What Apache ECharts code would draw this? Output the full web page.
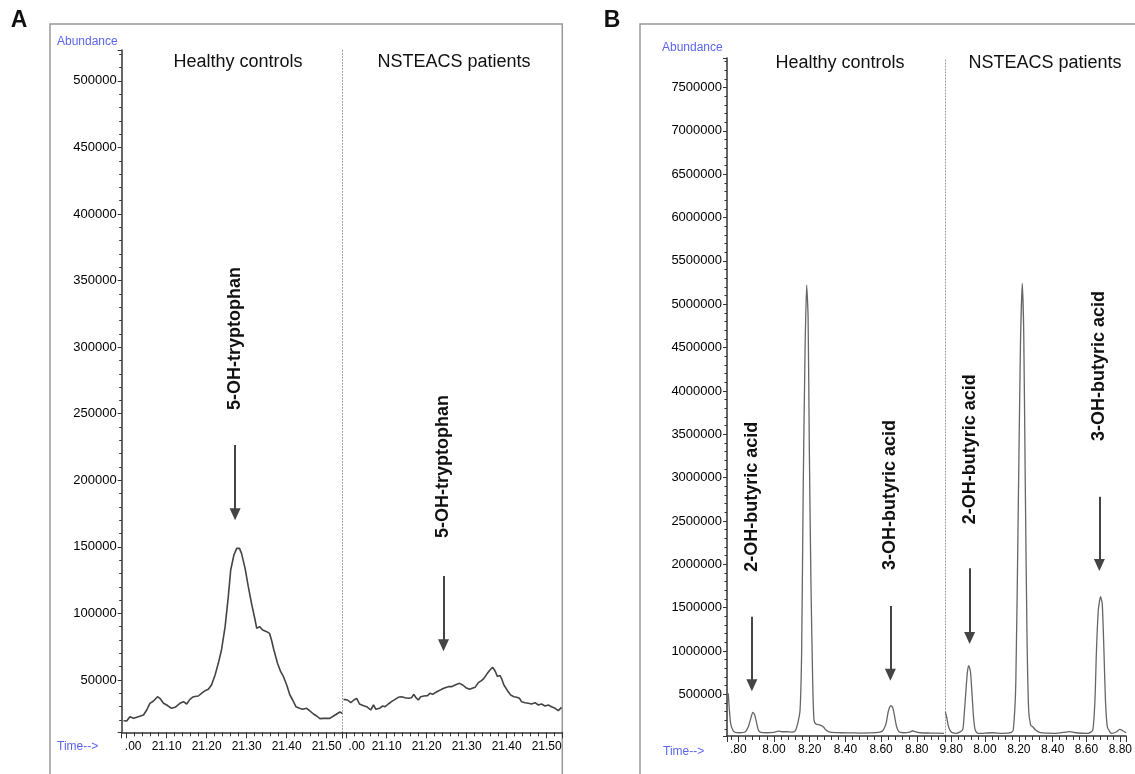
<!DOCTYPE html>
<html>
<head>
<meta charset="utf-8">
<title>GC-MS chromatograms</title>
<script src="https://cdn.jsdelivr.net/npm/echarts@6.0.0/dist/echarts.min.js"></script>
<style>
html, body { margin: 0; padding: 0; background: #fff; }
#chart { width: 1135px; height: 774px; }
</style>
</head>
<body>
<div id="chart"></div>
<script>
// Panel A - 5-OH-tryptophan, retention time (min) / abundance
var timeAHealthy = [20.992, 21.000, 21.008, 21.017, 21.029, 21.042, 21.050, 21.058, 21.067, 21.077,
    21.083, 21.092, 21.100, 21.112, 21.121, 21.133, 21.142, 21.150, 21.158, 21.167,
    21.179, 21.187, 21.196, 21.204, 21.212, 21.221, 21.229, 21.237, 21.246, 21.254,
    21.260, 21.268, 21.275, 21.282, 21.287, 21.296, 21.304, 21.312, 21.321, 21.325,
    21.332, 21.340, 21.350, 21.357, 21.362, 21.368, 21.377, 21.385, 21.392, 21.400,
    21.408, 21.415, 21.423, 21.432, 21.440, 21.450, 21.457, 21.467, 21.475, 21.483,
    21.492, 21.500, 21.508, 21.517, 21.525, 21.533, 21.539];
var abundAHealthy = [19400, 19150, 22410, 21160, 22410, 23660, 27420, 32430, 34180, 37430,
    36180, 32430, 31170, 28670, 29420, 32430, 33680, 31930, 35430, 37430,
    37940, 39940, 41940, 42940, 46200, 53710, 62480, 72490, 90020, 112560,
    132590, 143860, 148860, 148860, 145110, 133840, 120070, 107550, 95030, 88770,
    90020, 87510, 86260, 85010, 80000, 72490, 62480, 56210, 52460, 46200,
    38690, 34930, 29920, 28670, 27920, 28670, 26920, 24410, 22910, 20910,
    21160, 21160, 21160, 22910, 24410, 25920, 24920];
var timeAPatients = [20.992, 21.002, 21.010, 21.018, 21.025, 21.032, 21.042, 21.050, 21.060, 21.067,
    21.073, 21.082, 21.090, 21.096, 21.104, 21.112, 21.121, 21.129, 21.137, 21.146,
    21.154, 21.162, 21.168, 21.173, 21.179, 21.185, 21.193, 21.202, 21.208, 21.215,
    21.221, 21.229, 21.237, 21.246, 21.254, 21.262, 21.271, 21.282, 21.290, 21.298,
    21.307, 21.312, 21.321, 21.329, 21.337, 21.343, 21.350, 21.358, 21.365, 21.371,
    21.377, 21.383, 21.387, 21.393, 21.402, 21.410, 21.418, 21.425, 21.432, 21.437,
    21.446, 21.454, 21.462, 21.471, 21.479, 21.487, 21.496, 21.504, 21.512, 21.521,
    21.529, 21.533, 21.537];
var abundAPatients = [35430, 34930, 32930, 34930, 36180, 31930, 30670, 29920, 27420, 31170,
    27920, 28670, 30420, 29920, 31930, 33680, 35430, 36930, 37430, 36680,
    36180, 36680, 39190, 36680, 34930, 37430, 37940, 38190, 39940, 39190,
    40440, 41690, 42940, 44200, 44950, 44950, 46200, 47450, 46200, 44200,
    42940, 42440, 44450, 47950, 49450, 51210, 54210, 57470, 59470, 56720,
    52460, 53460, 51210, 46200, 41940, 38690, 37430, 36930, 36180, 33680,
    32930, 32430, 31930, 32930, 31170, 31930, 30420, 31170, 29920, 28670,
    26920, 27920, 29420];

// Panel B - hydroxybutyric acids
var timeBHealthy = [7.744, 7.750, 7.757, 7.769, 7.782, 7.810, 7.838, 7.856, 7.870, 7.881,
    7.892, 7.903, 7.912, 7.926, 7.959, 7.996, 8.024, 8.043, 8.071, 8.099,
    8.118, 8.133, 8.146, 8.155, 8.164, 8.174, 8.183, 8.191, 8.198, 8.207,
    8.217, 8.224, 8.235, 8.258, 8.276, 8.291, 8.314, 8.370, 8.420, 8.482,
    8.540, 8.594, 8.612, 8.628, 8.640, 8.654, 8.665, 8.676, 8.687, 8.700,
    8.724, 8.762, 8.777, 8.790, 8.818, 8.874, 8.952];
var abundBHealthy = [512000, 319400, 166000, 88800, 62300, 57700, 65700, 126800, 223700, 292900,
    261800, 166000, 88800, 62300, 57700, 62300, 77300, 69200, 69200, 65700,
    77300, 166000, 319400, 1011300, 2933500, 4470600, 5220100, 4854600, 3317500, 1780400,
    627300, 204100, 158000, 146400, 126800, 88800, 65700, 57700, 56000, 54200,
    55000, 65700, 88800, 166000, 299800, 369000, 350500, 242200, 126800, 69200,
    57700, 65700, 80700, 69200, 57700, 54200, 50700];
var timeBPatients = [7.766, 7.773, 7.782, 7.792, 7.803, 7.831, 7.867, 7.876, 7.886, 7.895,
    7.904, 7.914, 7.923, 7.932, 7.942, 7.957, 8.045, 8.101, 8.152, 8.167,
    8.182, 8.196, 8.209, 8.220, 8.229, 8.238, 8.248, 8.258, 8.270, 8.282,
    8.299, 8.327, 8.411, 8.479, 8.501, 8.535, 8.609, 8.637, 8.650, 8.659,
    8.670, 8.683, 8.693, 8.703, 8.712, 8.723, 8.740, 8.749, 8.778, 8.796,
    8.815, 8.834];
var abundBPatients = [296300, 242200, 146400, 88800, 62300, 50700, 88800, 242200, 512000, 742600,
    830200, 761000, 512000, 242200, 88800, 50700, 57700, 50700, 57700, 88800,
    627300, 2548400, 4470600, 5239700, 4663100, 2933500, 1203800, 319400, 146400, 126800,
    88800, 57700, 50700, 65700, 71500, 57700, 50700, 88800, 434700, 1011300,
    1472500, 1625900, 1549800, 1011300, 434700, 126800, 62300, 50700, 69200, 96900,
    80700, 57700];

// tick labels as printed on the instrument axes
var tickTimesA = [21.0, 21.1, 21.2, 21.3, 21.4, 21.5];
var tickLabelsA = ['.00', '21.10', '21.20', '21.30', '21.40', '21.50'];
var tickTimesB = [7.8, 8.0, 8.2, 8.4, 8.6, 8.8];
var tickLabelsBHealthy = ['.80', '8.00', '8.20', '8.40', '8.60', '8.80'];
var tickLabelsBPatients = ['9.80', '8.00', '8.20', '8.40', '8.60', '8.80'];
var yTicksA = [50000, 100000, 150000, 200000, 250000, 300000, 350000, 400000, 450000, 500000];
var yTicksB = [500000, 1000000, 1500000, 2000000, 2500000, 3000000, 3500000, 4000000,
    4500000, 5000000, 5500000, 6000000, 6500000, 7000000, 7500000];

// peak annotations: [name, time, label centre, arrow top, arrow head]
var noteAHealthy = ['5-OH-tryptophan', 21.271, 306500, 226500, 174400];
var noteAPatients = ['5-OH-tryptophan', 21.242, 210300, 128100, 76000];
var noteBHealthy = [['2-OH-butyric acid', 7.876, 2779000, 1395000, 604200],
    ['3-OH-butyric acid', 8.652, 2798600, 1518600, 726500]];
var noteBPatients = [['2-OH-butyric acid', 7.909, 3326700, 1953400, 1149600],
    ['3-OH-butyric acid', 8.676, 4288400, 2779000, 1991400]];

var FONT = '"Liberation Sans", Arial, Helvetica, sans-serif';
var BLUE = '#5a66f2';

function pairs (xs, ys) {
    return xs.map(function (x, i) { return [x, ys[i]]; });
}

function xAxis (gridIndex, min, max, splitNumber, ticks, labels, pad) {
    return {
        type: 'value', gridIndex: gridIndex, min: min, max: max, splitNumber: splitNumber,
        axisLine: { show: true, onZero: false, lineStyle: { color: '#333', width: 1.5 } },
        axisTick: { show: true, length: 6, lineStyle: { color: '#333', width: 1 } },
        minorTick: { show: true, splitNumber: 5, length: 4, lineStyle: { color: '#333', width: 1 } },
        splitLine: { show: false },
        axisLabel: {
            margin: 8, color: '#000', fontSize: 12, fontFamily: FONT,
            formatter: function (v) {
                for (var i = 0; i < ticks.length; i++) {
                    if (Math.abs(v - ticks[i]) < 1e-6) {
                        return i === 0 && pad ? '{s|' + labels[i] + '}' : labels[i];
                    }
                }
                return '';
            },
            rich: { s: { padding: [0, 0, 0, pad || 0], color: '#000', fontSize: 12, fontFamily: FONT } }
        }
    };
}

function yAxis (gridIndex, min, max, splitNumber, ticks, main) {
    if (!main) {
        // dotted divider between the two runs
        return {
            type: 'value', gridIndex: gridIndex, min: min, max: max, splitNumber: splitNumber,
            axisLine: { show: true, lineStyle: { color: '#999', width: 1, type: [1, 2] } },
            axisTick: { show: false }, axisLabel: { show: false }, splitLine: { show: false }
        };
    }
    return {
        type: 'value', gridIndex: gridIndex, min: min, max: max, splitNumber: splitNumber,
        axisLine: { show: true, lineStyle: { color: '#333', width: 1.5 } },
        axisTick: { show: true, length: 4, lineStyle: { color: '#333', width: 1 } },
        minorTick: { show: true, splitNumber: 5, length: 2.5, lineStyle: { color: '#333', width: 1 } },
        splitLine: { show: false },
        axisLabel: {
            margin: 5, color: '#000', fontSize: 13, fontFamily: FONT,
            formatter: function (v) { return ticks.indexOf(v) >= 0 ? String(v) : ''; }
        }
    };
}

function notes (list) {
    return {
        markLine: {
            silent: true, animation: false,
            symbol: ['none', 'triangle'], symbolSize: [11, 12],
            lineStyle: { color: '#444', width: 2, type: 'solid' },
            label: { show: false },
            data: list.map(function (n) { return [{ coord: [n[1], n[3]] }, { coord: [n[1], n[4]] }]; })
        },
        markPoint: {
            silent: true, animation: false,
            symbol: 'circle', symbolSize: 1, itemStyle: { color: 'rgba(0,0,0,0)' },
            label: {
                show: true, position: 'inside', rotate: 90, formatter: '{b}',
                color: '#111', fontSize: 18, fontWeight: 'bold', fontFamily: FONT
            },
            data: list.map(function (n) { return { name: n[0], coord: [n[1], n[2]] }; })
        }
    };
}

function trace (idx, xs, ys, color, width, smooth, list) {
    var n = notes(list);
    return {
        type: 'line', xAxisIndex: idx, yAxisIndex: idx, data: pairs(xs, ys),
        showSymbol: false, smooth: smooth, silent: true,
        lineStyle: { color: color, width: width },
        markLine: n.markLine, markPoint: n.markPoint
    };
}

function text (x, y, str, size, color, align, weight) {
    return {
        type: 'text', x: x, y: y, silent: true,
        style: {
            text: str, fill: color, align: align || 'center', verticalAlign: 'middle',
            font: (weight || 'normal') + ' ' + size + 'px ' + FONT
        }
    };
}

var aMin = 10670, aMax = 523200, bMin = 20000, bMax = 7840000;

var option = {
    animation: false,
    backgroundColor: '#fff',
    grid: [
        { left: 121.7, top: 50, width: 220.6, height: 682.3 },
        { left: 342.3, top: 50, width: 220, height: 682.3 },
        { left: 727, top: 58, width: 218, height: 678 },
        { left: 945, top: 58, width: 190, height: 678 }
    ],
    xAxis: [
        xAxis(0, 20.9875, 21.539, 5, tickTimesA, tickLabelsA, 13),
        xAxis(1, 20.989, 21.539, 5, tickTimesA, tickLabelsA, 20),
        xAxis(2, 7.7367, 8.958, 6, tickTimesB, tickLabelsBHealthy, 0),
        xAxis(3, 7.7634, 8.8338, 5, tickTimesB, tickLabelsBPatients, 0)
    ],
    yAxis: [
        yAxis(0, aMin, aMax, 10, yTicksA, true),
        yAxis(1, aMin, aMax, 10, yTicksA, false),
        yAxis(2, bMin, bMax, 15, yTicksB, true),
        yAxis(3, bMin, bMax, 15, yTicksB, false)
    ],
    series: [
        trace(0, timeAHealthy, abundAHealthy, '#444', 1.6, false, [noteAHealthy]),
        trace(1, timeAPatients, abundAPatients, '#444', 1.6, false, [noteAPatients]),
        trace(2, timeBHealthy, abundBHealthy, '#666', 1.3, 0.2, noteBHealthy),
        trace(3, timeBPatients, abundBPatients, '#666', 1.3, 0.2, noteBPatients)
    ],
    graphic: [
        { type: 'rect', silent: true, z: -1, shape: { x: 50, y: 24, width: 512.3, height: 780 },
          style: { fill: 'none', stroke: '#999', lineWidth: 1.5 } },
        { type: 'rect', silent: true, z: -1, shape: { x: 640, y: 24, width: 600, height: 780 },
          style: { fill: 'none', stroke: '#999', lineWidth: 1.5 } },
        text(19, 21, 'A', 23, '#111', 'center', 'bold'),
        text(612, 21, 'B', 23, '#111', 'center', 'bold'),
        text(238, 62, 'Healthy controls', 18, '#111'),
        text(454, 62, 'NSTEACS patients', 18, '#111'),
        text(840, 63, 'Healthy controls', 18, '#111'),
        text(1045, 63, 'NSTEACS patients', 18, '#111'),
        text(57, 42, 'Abundance', 12, BLUE, 'left'),
        text(662, 48, 'Abundance', 12, BLUE, 'left'),
        text(57, 747, 'Time-->', 12, BLUE, 'left'),
        text(663, 752, 'Time-->', 12, BLUE, 'left')
    ]
};

var chart = echarts.init(document.getElementById('chart'));
chart.setOption(option);
</script>
</body>
</html>
